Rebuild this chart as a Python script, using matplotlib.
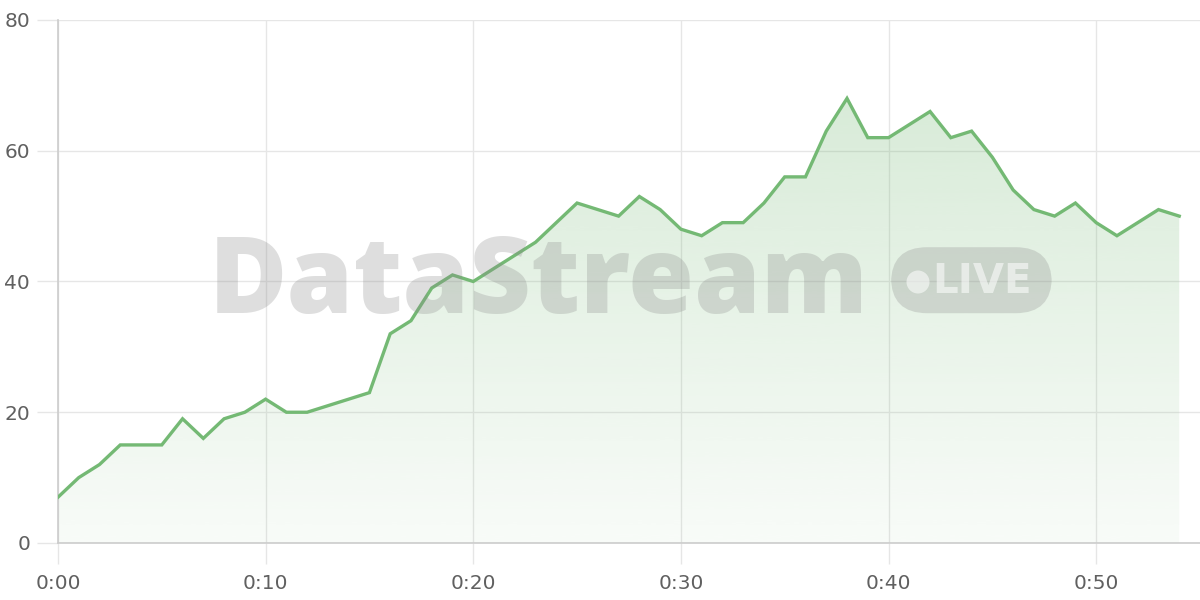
import numpy as np
import matplotlib
matplotlib.use('Agg')
import matplotlib.pyplot as plt
from matplotlib.patches import FancyBboxPatch, Ellipse

# viewers per minute
minutes = list(range(0, 55))
viewers = [7, 10, 12, 15, 15, 15, 19, 16, 19, 20,
           22, 20, 20, 21, 22, 23, 32, 34, 39, 41,
           40, 42, 44, 46, 49, 52, 51, 50, 53, 51,
           48, 47, 49, 49, 52, 56, 56, 63, 68, 62,
           62, 64, 66, 62, 63, 59, 54, 51, 50, 52,
           49, 47, 49, 51, 50]
x_ticks = [0, 10, 20, 30, 40, 50]
x_labels = ['0:00', '0:10', '0:20', '0:30', '0:40', '0:50']
y_ticks = [0, 20, 40, 60, 80]

line_col = '#74b974'
plt.rcParams['font.family'] = ['DejaVu Sans']

fig = plt.figure(figsize=(12, 6), dpi=100)
ax = fig.add_axes([0.0483, 0.095, 0.9517, 0.8717])
ax.set_xlim(0, 55)
ax.set_ylim(0, 80)

# gradient fill under the line
grad = np.linspace(0.05, 0.28, 256).reshape(-1, 1)
cmap = matplotlib.colors.LinearSegmentedColormap.from_list(
    'g', [(0.455, 0.725, 0.455, 0.0), (0.455, 0.725, 0.455, 1.0)])
img = ax.imshow(grad, extent=[0, 55, 0, max(viewers)], origin='lower',
                aspect='auto', cmap=cmap, vmin=0, vmax=1, zorder=1)
poly = ax.fill_between(minutes, viewers, 0, color='none', zorder=1)
clip = poly.get_paths()[0]
img.set_clip_path(clip, transform=ax.transData)

ax.plot(minutes, viewers, color=line_col, lw=2.4, zorder=4,
        solid_joinstyle='miter')

ax.set_xticks(x_ticks)
ax.set_xticklabels(x_labels)
ax.set_yticks(y_ticks)
ax.grid(True, color='#e6e6e6', lw=1, zorder=0)
ax.set_axisbelow(True)
for s in ['top', 'right']:
    ax.spines[s].set_visible(False)
for s in ['left', 'bottom']:
    ax.spines[s].set_color('#cccccc')
    ax.spines[s].set_linewidth(1.2)
ax.tick_params(axis='both', colors='#e6e6e6', labelcolor='#606060',
               labelsize=14.5, length=15, width=1)
ax.tick_params(axis='x', pad=7)
ax.tick_params(axis='y', pad=5)

# watermark
wm = '#8a8a8a'
fig.text(0.174, 0.478, 'DataStream', fontsize=77, fontweight='heavy',
         color=wm, alpha=0.28, ha='left', va='baseline', zorder=10,
         family=['Open Sans', 'DejaVu Sans'])
box = FancyBboxPatch((0.7425, 0.478), 0.134, 0.11,
                     boxstyle='round,pad=0,rounding_size=0.03',
                     transform=fig.transFigure, facecolor=wm, alpha=0.28,
                     edgecolor='none', zorder=10, mutation_aspect=2)
fig.patches.append(box)
fig.patches.append(Ellipse((0.765, 0.53), 23 / 1200, 23 / 600,
                           transform=fig.transFigure,
                           facecolor='white', alpha=0.55, zorder=11))
fig.text(0.7765, 0.53, 'LIVE', fontsize=29, color='white', alpha=0.55,
         ha='left', va='center', zorder=11, fontweight='bold')

fig.savefig('out.png', dpi=100)
